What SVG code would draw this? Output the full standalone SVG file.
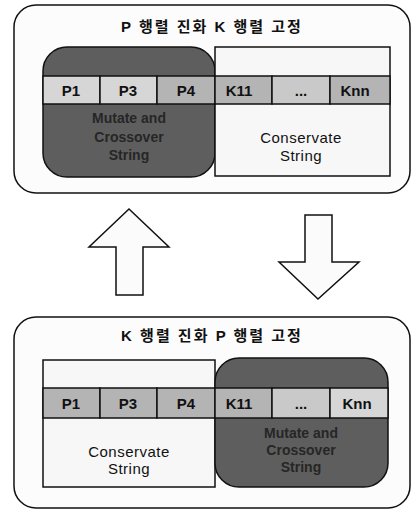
<svg xmlns="http://www.w3.org/2000/svg" width="414" height="513" viewBox="0 0 414 513">
<style>
.panel{fill:#fcfcfc;stroke:#111;stroke-width:1.5}
.dark{fill:#5e5e5e;stroke:#111;stroke-width:1.5}
.white{fill:#f7f7f7;stroke:#111;stroke-width:1.5}
.cell{stroke:#111;stroke-width:1.5}
.c1{fill:#d6d6d6}.c2{fill:#b4b4b4}.c3{fill:#c9c9c9}
.title{font-family:"Liberation Sans","Noto Sans CJK KR",sans-serif;font-size:15px;font-weight:bold;fill:#111;text-anchor:middle;letter-spacing:2px}
.lbl{font-family:"Liberation Sans",sans-serif;font-size:15px;font-weight:bold;fill:#111;text-anchor:middle}
.txt{font-family:"Liberation Sans",sans-serif;font-size:15px;fill:#111;text-anchor:middle;letter-spacing:0.5px}
.dtxt{font-family:"Liberation Sans",sans-serif;font-size:14px;font-weight:bold;fill:#262626;text-anchor:middle}
.arrow{fill:#fbfbfb;stroke:#111;stroke-width:1.5;stroke-linejoin:miter}
</style>
<g id="top-panel">
<rect class="panel" x="14" y="5" width="396" height="188" rx="22"/>
<text class="title" x="212" y="32">P 행렬 진화 K 행렬 고정</text>
<rect class="dark" x="43" y="47" width="172" height="130" rx="24"/>
<rect class="white" x="215" y="47" width="175" height="129"/>
<rect class="cell c1" x="43" y="76" width="57" height="28"/>
<rect class="cell c1" x="100" y="76" width="57" height="28"/>
<rect class="cell c2" x="157" y="76" width="58" height="28"/>
<rect class="cell c2" x="215" y="76" width="57" height="28"/>
<rect class="cell c3" x="272" y="76" width="58" height="28"/>
<rect class="cell c2" x="330" y="76" width="60" height="28"/>
<text class="lbl" x="71" y="96">P1</text>
<text class="lbl" x="128" y="96">P3</text>
<text class="lbl" x="186" y="96">P4</text>
<text class="lbl" x="239" y="96">K11</text>
<text class="lbl" x="301" y="96">...</text>
<text class="lbl" x="355" y="96">Knn</text>
<text class="dtxt" x="129" y="123">Mutate and</text>
<text class="dtxt" x="129" y="142">Crossover</text>
<text class="dtxt" x="129" y="160">String</text>
<text class="txt" x="301" y="143">Conservate</text>
<text class="txt" x="301" y="161">String</text>
</g>
<g id="connectors">
<polygon id="up-arrow" class="arrow" points="129,209 169,247 143,247 143,295 116,295 116,247 89,247"/>
<polygon id="down-arrow" class="arrow" points="305,215 332,215 332,262 359,262 318,299 279,262 305,262"/>
</g>
<g id="bottom-panel">
<rect class="panel" x="14" y="317" width="396" height="191" rx="22"/>
<text class="title" x="212" y="341">K 행렬 진화 P 행렬 고정</text>
<rect class="white" x="43" y="360" width="172" height="127"/>
<rect class="dark" x="215" y="358" width="173" height="129" rx="24"/>
<rect class="cell c2" x="43" y="388" width="57" height="30"/>
<rect class="cell c2" x="100" y="388" width="57" height="30"/>
<rect class="cell c2" x="157" y="388" width="58" height="30"/>
<rect class="cell c2" x="215" y="388" width="57" height="30"/>
<rect class="cell c3" x="272" y="388" width="58" height="30"/>
<rect class="cell c1" x="330" y="388" width="58" height="30"/>
<text class="lbl" x="71" y="409">P1</text>
<text class="lbl" x="128" y="409">P3</text>
<text class="lbl" x="186" y="409">P4</text>
<text class="lbl" x="239" y="409">K11</text>
<text class="lbl" x="301" y="409">...</text>
<text class="lbl" x="357" y="409">Knn</text>
<text class="txt" x="129" y="457">Conservate</text>
<text class="txt" x="129" y="474">String</text>
<text class="dtxt" x="301" y="438">Mutate and</text>
<text class="dtxt" x="301" y="455">Crossover</text>
<text class="dtxt" x="301" y="472">String</text>
</g>
</svg>
